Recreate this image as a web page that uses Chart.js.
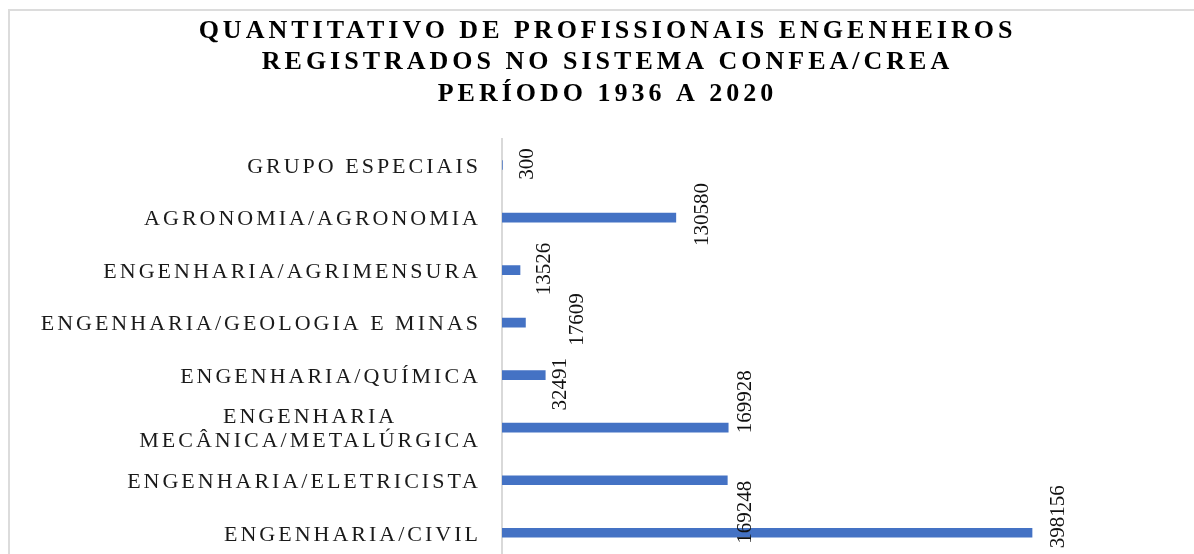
<!DOCTYPE html>
<html>
<head>
<meta charset="utf-8">
<script src="https://cdn.jsdelivr.net/npm/chart.js@4/dist/chart.umd.min.js"></script>
<style>
  html, body { margin: 0; padding: 0; background: #fff; overflow: hidden; }
  #wrap { position: relative; width: 1194px; height: 554px; overflow: hidden; }
  #frame { position: absolute; left: 8px; top: 9px; width: 1300px; height: 700px;
           border-top: 2px solid #dcdcdc; border-left: 2px solid #dcdcdc; }
  #box { position: absolute; left: 0; top: 0; width: 1215px; height: 600px; }
</style>
</head>
<body>
<div id="wrap">
  <div id="frame"></div>
  <div id="box"><canvas id="chart"></canvas></div>
</div>
<script>
// categories, top to bottom
const categories = [
  "GRUPO ESPECIAIS",
  "AGRONOMIA/AGRONOMIA",
  "ENGENHARIA/AGRIMENSURA",
  "ENGENHARIA/GEOLOGIA E MINAS",
  "ENGENHARIA/QUÍMICA",
  ["ENGENHARIA", "MECÂNICA/METALÚRGICA"],
  "ENGENHARIA/ELETRICISTA",
  "ENGENHARIA/CIVIL"
];
// number of registered engineers
const profissionais = [300, 130580, 13526, 17609, 32491, 169928, 169248, 398156];

const titleLines = [
  "QUANTITATIVO DE PROFISSIONAIS ENGENHEIROS",
  "REGISTRADOS NO SISTEMA CONFEA/CREA",
  "PERÍODO 1936 A 2020"
];

// value labels were dragged around by hand in the original, so nudge each one
const labelNudge = [[25, -1], [27, -3], [24, -1], [52, -3], [15, 9], [17, -26], [18, 32], [26, -16]];

const SERIF = "'Liberation Serif', 'Times New Roman', serif";

const labelsPlugin = {
  id: "labelsPlugin",
  beforeDraw(chart) {
    // spaced-out title letters
    chart.ctx.letterSpacing = "4px";
  },
  afterDraw(chart) {
    const ctx = chart.ctx;
    const yScale = chart.scales.y;
    const meta = chart.getDatasetMeta(0);

    // category labels: block right aligned, lines centred inside the block
    ctx.save();
    ctx.letterSpacing = "3px";
    ctx.font = "22px " + SERIF;
    ctx.fillStyle = "#1a1a1a";
    ctx.textAlign = "center";
    ctx.textBaseline = "middle";
    const right = yScale.right - 21;
    categories.forEach((lab, i) => {
      const lines = Array.isArray(lab) ? lab : [lab];
      const maxW = Math.max(...lines.map(l => ctx.measureText(l).width));
      const y = yScale.getPixelForTick(i);
      const lh = 24;
      lines.forEach((l, k) => {
        const ly = y + (k - (lines.length - 1) / 2) * lh + 2;
        ctx.fillText(l, right - maxW / 2, ly);
      });
    });
    ctx.restore();

    // value labels, rotated
    ctx.save();
    ctx.letterSpacing = "0px";
    ctx.font = "21px " + SERIF;
    ctx.fillStyle = "#111";
    ctx.textAlign = "center";
    ctx.textBaseline = "middle";
    meta.data.forEach((bar, i) => {
      const n = labelNudge[i];
      ctx.save();
      ctx.translate(bar.x + n[0], bar.y + n[1]);
      ctx.rotate(-Math.PI / 2);
      ctx.fillText(String(profissionais[i]), 0, 0);
      ctx.restore();
    });
    ctx.restore();
  }
};

new Chart(document.getElementById("chart"), {
  type: "bar",
  data: {
    labels: categories,
    datasets: [{
      data: profissionais,
      backgroundColor: "#4472C4",
      barThickness: 9
    }]
  },
  options: {
    indexAxis: "y",
    responsive: true,
    maintainAspectRatio: false,
    animation: false,
    layout: { padding: { left: 0, right: 0, top: 0, bottom: 41 } },
    scales: {
      x: { display: false, min: 0, max: 535600 },
      y: {
        grid: { display: false },
        border: { display: true, color: "#d9d9d9", width: 2 },
        ticks: { display: false },
        afterFit(scale) { scale.width = 502; }
      }
    },
    plugins: {
      legend: { display: false },
      tooltip: { enabled: false },
      title: {
        display: true,
        text: titleLines,
        color: "#000",
        font: { family: SERIF, size: 26, weight: "bold", lineHeight: 1.215 },
        padding: { top: 15, bottom: 29 }
      }
    }
  },
  plugins: [labelsPlugin]
});
</script>
</body>
</html>
